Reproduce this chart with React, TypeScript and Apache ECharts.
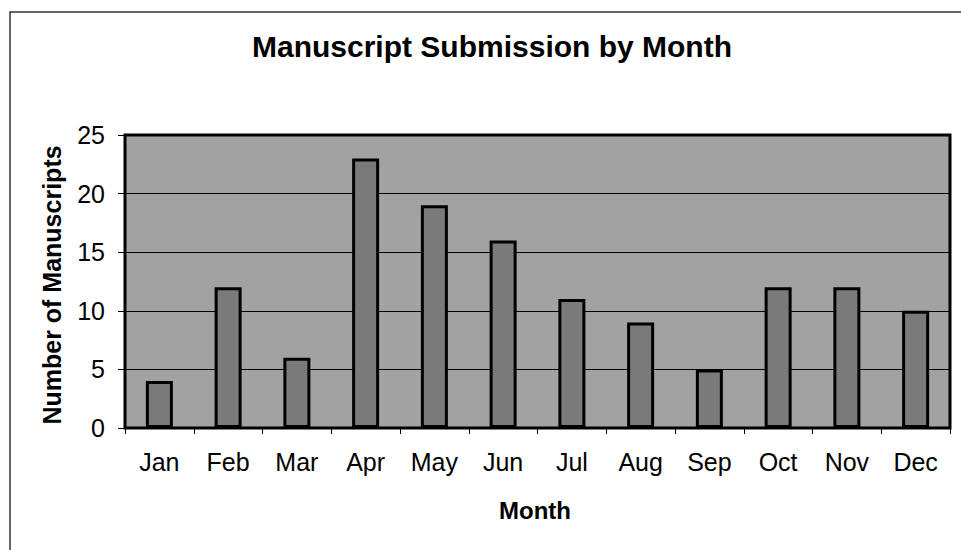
import React, { useEffect, useRef } from "react";
import * as echarts from "echarts";

const months = ["Jan", "Feb", "Mar", "Apr", "May", "Jun", "Jul", "Aug", "Sep", "Oct", "Nov", "Dec"];
const submissions = [4, 12, 6, 23, 19, 16, 11, 9, 5, 12, 12, 10];
const titleText = "Manuscript Submission by Month";
const yAxisName = "Number of Manuscripts";
const xAxisName = "Month";

const FONT = "Arial, 'Liberation Sans', sans-serif";

export default function App() {
  const ref = useRef<HTMLDivElement>(null);
  useEffect(() => {
    if (!ref.current) return;
    const chart = echarts.init(ref.current, null, { renderer: "svg" });
    chart.setOption({
      animation: false,
      backgroundColor: "#ffffff",
      grid: {
        left: 125,
        right: 11,
        top: 135,
        bottom: 122,
        show: true,
        backgroundColor: "#a2a2a2",
        borderColor: "#000000",
        borderWidth: 3,
      },
      xAxis: {
        type: "category",
        data: months,
        axisLine: { show: true, lineStyle: { color: "#000", width: 2 } },
        axisTick: { show: true, length: 6, lineStyle: { color: "#000", width: 1 } },
        axisLabel: { color: "#000", fontFamily: FONT, fontSize: 25, margin: 21 },
      },
      yAxis: {
        type: "value",
        min: 0,
        max: 25,
        interval: 5,
        axisLine: { show: true, lineStyle: { color: "#000", width: 2 } },
        axisTick: { show: true, length: 7, lineStyle: { color: "#000", width: 1 } },
        axisLabel: { color: "#000", fontFamily: FONT, fontSize: 25, margin: 20 },
        splitLine: { show: true, lineStyle: { color: "#000", width: 1 } },
      },
      series: [
        {
          type: "bar",
          data: submissions,
          barWidth: 27,
          itemStyle: { color: "#7a7a7a", borderColor: "#000", borderWidth: 3 },
        },
      ],
      graphic: [
        {
          type: "rect",
          shape: { x: 10, y: 12, width: 960, height: 560 },
          style: { fill: "none", stroke: "#333", lineWidth: 1.5 },
          silent: true,
        },
        {
          type: "text",
          x: 492,
          y: 46,
          style: {
            text: titleText,
            font: `bold 30px ${FONT}`,
            fill: "#000",
            textAlign: "center",
            textVerticalAlign: "middle",
          },
        },
        {
          type: "text",
          x: 52,
          y: 285,
          rotation: Math.PI / 2,
          style: {
            text: yAxisName,
            font: `bold 25px ${FONT}`,
            fill: "#000",
            textAlign: "center",
            textVerticalAlign: "middle",
          },
        },
        {
          type: "text",
          x: 535,
          y: 510,
          style: {
            text: xAxisName,
            font: `bold 24px ${FONT}`,
            fill: "#000",
            textAlign: "center",
            textVerticalAlign: "middle",
          },
        },
      ],
    });
    return () => chart.dispose();
  }, []);
  return (
    <div
      ref={ref}
      style={{ position: "absolute", left: 0, top: 0, width: 961, height: 550 }}
    />
  );
}
